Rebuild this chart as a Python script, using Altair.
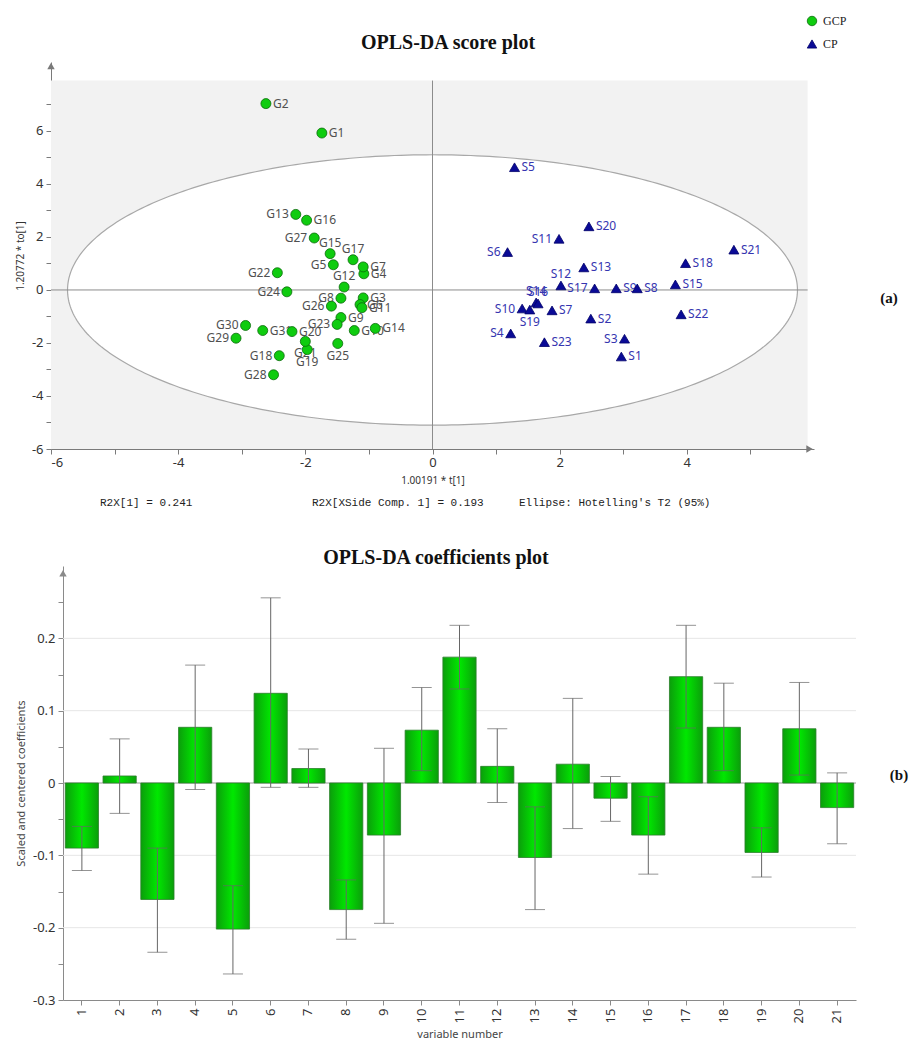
import altair as alt
import pandas as pd

# ---------------- OPLS-DA score plot data ----------------
g_names = ["G1", "G2", "G3", "G4", "G5", "G6", "G7", "G8", "G9", "G10", "G11", "G12",
           "G13", "G14", "G15", "G16", "G17", "G18", "G19", "G20", "G21", "G22", "G23",
           "G24", "G25", "G26", "G27", "G28", "G29", "G30", "G31"]
g_t1 = [-1.74, -2.62, -1.09, -1.08, -1.56, -1.14, -1.09, -1.44, -1.44, -1.23, -1.11, -1.39,
        -2.15, -0.90, -1.61, -1.98, -1.25, -2.41, -1.97, -2.21, -2.00, -2.44, -1.50,
        -2.29, -1.49, -1.59, -1.86, -2.50, -3.09, -2.94, -2.67]
g_to1 = [5.92, 7.03, -0.30, 0.61, 0.95, -0.55, 0.87, -0.31, -1.04, -1.53, -0.67, 0.11,
         2.85, -1.45, 1.37, 2.63, 1.14, -2.48, -2.25, -1.57, -1.94, 0.65, -1.30,
         -0.07, -2.02, -0.61, 1.96, -3.20, -1.82, -1.34, -1.53]
g_side = ["R", "R", "R", "R", "L", "R", "R", "L", "R", "R", "R", "A",
          "L", "R", "A", "R", "A", "L", "B", "R", "B", "L", "L",
          "L", "B", "L", "L", "L", "L", "L", "R"]

s_names = ["S1", "S2", "S3", "S4", "S5", "S6", "S7", "S8", "S9", "S10", "S11", "S12",
           "S13", "S14", "S15", "S16", "S17", "S18", "S19", "S20", "S21", "S22", "S23"]
s_t1 = [2.97, 2.49, 3.02, 1.23, 1.29, 1.18, 1.88, 3.22, 2.89, 1.41, 1.99, 2.02,
        2.38, 1.63, 3.82, 1.66, 2.55, 3.98, 1.53, 2.46, 4.74, 3.91, 1.76]
s_to1 = [-2.51, -1.08, -1.84, -1.64, 4.63, 1.43, -0.77, 0.06, 0.06, -0.70, 1.93, 0.17,
         0.85, -0.47, 0.21, -0.51, 0.06, 1.01, -0.74, 2.40, 1.52, -0.92, -1.97]
s_side = ["R", "R", "L", "L", "R", "L", "R", "R", "R", "L", "L", "A",
          "R", "A", "R", "A", "L", "R", "B", "R", "R", "R", "R"]

groups = ["GCP", "CP"]
r2x_texts = ["R2X[1] = 0.241", "R2X[XSide Comp. 1] = 0.193", "Ellipse: Hotelling's T2 (95%)"]
ellipse_axes = [5.74, 5.1]   # Hotelling's T2 ellipse semi-axes (t[1], to[1])

# ---------------- OPLS-DA coefficients data ----------------
var_num = list(range(1, 22))
coef = [-0.090, 0.0097, -0.161, 0.077, -0.202, 0.124, 0.020, -0.175, -0.072, 0.073, 0.174,
        0.023, -0.103, 0.026, -0.021, -0.072, 0.147, 0.077, -0.096, 0.075, -0.034]
err_hi = [-0.060, 0.061, -0.090, 0.163, -0.142, 0.256, 0.047, -0.134, 0.048, 0.132, 0.218,
          0.075, -0.033, 0.117, 0.009, -0.019, 0.218, 0.138, -0.062, 0.139, 0.014]
err_lo = [-0.121, -0.042, -0.234, -0.009, -0.264, -0.006, -0.006, -0.216, -0.194, 0.017, 0.130,
          -0.027, -0.175, -0.063, -0.053, -0.126, 0.076, 0.017, -0.130, 0.011, -0.084]
grid_vals = [-0.2, -0.1, 0.1, 0.2]

SANS = "Noto Sans"
SERIF = "Liberation Serif"
AXC = "#7a7a7a"

# =============== top chart ===============
pts = pd.DataFrame({
    "name": g_names + s_names,
    "t1": g_t1 + s_t1,
    "to1": g_to1 + s_to1,
    "group": ["GCP"] * len(g_names) + ["CP"] * len(s_names),
    "side": g_side + s_side,
})

W1, H1 = 751, 387
xsc = alt.Scale(domain=[-6, 6], range=[-12, W1], nice=False, zero=False)
ysc = alt.Scale(domain=[-6, 8.6], nice=False, zero=False)

x_axis = alt.Axis(values=list(range(-6, 6)),
                  labelExpr="datum.value % 2 == 0 ? toString(datum.value) : ''",
                  title="1.00191 * t[1]", grid=False, domainColor=AXC, tickColor=AXC,
                  tickSize=5, labelFont=SANS, labelFontSize=13, labelColor="#333",
                  labelPadding=2, titleFont=SANS, titleFontSize=10, titleFontWeight="normal",
                  titleColor="#333", titlePadding=6)
y_axis = alt.Axis(values=list(range(-6, 8)),
                  labelExpr="datum.value % 2 == 0 ? toString(datum.value) : ''",
                  title="1.20772 * to[1]", grid=False, domainColor=AXC, tickColor=AXC,
                  tickSize=5, offset=12, labelFont=SANS, labelFontSize=13, labelColor="#333",
                  labelPadding=3, titleFont=SANS, titleFontSize=10, titleFontWeight="normal",
                  titleColor="#333", titlePadding=6)


def X1(f):
    return alt.X(f, type="quantitative", scale=xsc, axis=x_axis)


def Y1(f):
    return alt.Y(f, type="quantitative", scale=ysc, axis=y_axis)


frame = pd.DataFrame({"x0": [-6], "x1": [5.9], "y0": [-6], "y1": [7.9], "zero": [0],
                      "xa": [5.93], "ya": [8.45]})
bg = alt.Chart(frame).mark_rect(color="#f2f2f2").encode(
    x=X1("x0"), x2="x1:Q", y=Y1("y0"), y2="y1:Q")

a_ax, b_ax = ellipse_axes
ell_fill = alt.Chart(alt.sequence(0, 181, 1, as_="deg")).transform_calculate(
    ex=f"{a_ax} * cos(datum.deg * PI / 180)",
    ey=f"{b_ax} * sin(datum.deg * PI / 180)",
    ey2=f"-{b_ax} * sin(datum.deg * PI / 180)",
).mark_area(color="white").encode(x=X1("ex"), y=Y1("ey"), y2="ey2:Q")

ell_line = alt.Chart(alt.sequence(0, 361, 1, as_="deg")).transform_calculate(
    ex=f"{a_ax} * cos(datum.deg * PI / 180)",
    ey=f"{b_ax} * sin(datum.deg * PI / 180)",
).mark_line(color="#a8a8a8", strokeWidth=1.2).encode(x=X1("ex"), y=Y1("ey"), order="deg:Q")

vline = alt.Chart(frame).mark_rule(color="#8c8c8c", strokeWidth=1).encode(
    x=X1("zero"), y=Y1("y0"), y2="y1:Q")
hline = alt.Chart(frame).mark_rule(color="#8c8c8c", strokeWidth=1).encode(
    y=Y1("zero"), x=X1("x0"), x2="x1:Q")

arrow_y = alt.Chart(frame).mark_point(shape="triangle-up", filled=True, size=55,
                                      color=AXC, opacity=1).encode(x=X1("x0"), y=Y1("ya"))
arrow_x = alt.Chart(frame).mark_point(shape="triangle-right", filled=True, size=55,
                                      color=AXC, opacity=1).encode(x=X1("xa"), y=Y1("y0"))

lab_color = alt.condition(alt.datum.group == "GCP", alt.value("#505050"), alt.value("#3535b0"))
base_pts = alt.Chart(pts).encode(x=X1("t1"), y=Y1("to1"))

side_cfg = {"R": dict(align="left", dx=7), "L": dict(align="right", dx=-7),
            "A": dict(align="center", dy=-11), "B": dict(align="center", dy=12)}
labels = [
    base_pts.transform_filter(alt.datum.side == s).mark_text(
        font=SANS, fontSize=12, baseline="middle", **cfg).encode(text="name:N", color=lab_color)
    for s, cfg in side_cfg.items()
]

leg = alt.Legend(orient="none", legendX=743, legendY=-47, title=None, labelFont=SERIF,
                 labelFontSize=12, labelColor="#222", symbolSize=90, rowPadding=10,
                 labelOffset=5, symbolStrokeWidth=0.8)
points = base_pts.mark_point(filled=True, size=100, opacity=1, strokeWidth=0.8).encode(
    color=alt.Color("group:N", scale=alt.Scale(domain=groups, range=["#0fcc0f", "#0a0a96"]),
                    legend=leg),
    shape=alt.Shape("group:N", scale=alt.Scale(domain=groups, range=["circle", "triangle-up"]),
                    legend=leg),
    stroke=alt.Stroke("group:N", scale=alt.Scale(domain=groups, range=["#0b6b0b", "#00006a"]),
                      legend=None),
)


def txt(s, x, y, **kw):
    return alt.Chart(pd.DataFrame({"t": [s]})).mark_text(**kw).encode(
        x=alt.value(x), y=alt.value(y), text="t:N")


title1 = txt("OPLS-DA score plot", 385, -19, font=SERIF, fontSize=20, fontWeight="bold",
             color="#111", baseline="middle")
r2x = [txt(s, x, 441, font="Liberation Mono", fontSize=11, color="#222", align="left",
           baseline="middle") for s, x in zip(r2x_texts, [37, 249, 456])]
tag_a = txt("(a)", 826, 236, font=SERIF, fontSize=15, fontWeight="bold", color="#111",
            baseline="middle")

top = alt.layer(bg, ell_fill, ell_line, vline, hline, arrow_y, arrow_x, *labels, points,
                title1, *r2x, tag_a).properties(width=W1, height=H1)

# =============== bottom chart ===============
cdf = pd.DataFrame({"var": var_num, "coef": coef, "lo": err_lo, "hi": err_hi,
                    "zero": [0] * len(var_num), "ya": [0.29] * len(var_num)})
W2, H2 = 793, 434
ysc_b = alt.Scale(domain=[-0.3, 0.3], nice=False, zero=False)
xsc_b = alt.Scale(paddingInner=0.12, paddingOuter=0.06)
ytick_vals = [round(i * 0.05, 2) for i in range(-6, 6)]

xb_axis = alt.Axis(title="variable number", labelAngle=270, domainColor="#8a8a8a",
                   tickColor="#8a8a8a", tickSize=5, labelFont=SANS, labelFontSize=13,
                   labelColor="#333", labelPadding=3, titleFont=SANS, titleFontSize=11,
                   titleFontWeight="normal", titleColor="#444", titlePadding=6)
yb_axis = alt.Axis(values=ytick_vals,
                   labelExpr="round(datum.value * 20) % 2 != 0 ? '' : (abs(datum.value) < 1e-9 ? '0' : (datum.value < 0 ? '-' : '') + format(abs(datum.value), '.1f'))",
                   title="Scaled and centered coefficients", grid=False, domainColor="#8a8a8a",
                   tickColor="#8a8a8a", tickSize=5, labelFont=SANS, labelFontSize=13,
                   labelColor="#333", labelPadding=3, titleFont=SANS, titleFontSize=11,
                   titleFontWeight="normal", titleColor="#444", titlePadding=6)


def X2():
    return alt.X("var:O", scale=xsc_b, axis=xb_axis)


def Y2(f):
    return alt.Y(f, type="quantitative", scale=ysc_b, axis=yb_axis)


grid = alt.Chart(pd.DataFrame({"g": grid_vals})).mark_rule(color="#e6e6e6", strokeWidth=1).encode(
    y=Y2("g"))

grad = alt.Gradient(gradient="linear", x1=0, x2=1, y1=0, y2=0, stops=[
    alt.GradientStop(color="#0b9e0b", offset=0),
    alt.GradientStop(color="#00e800", offset=0.5),
    alt.GradientStop(color="#0b9e0b", offset=1)])

bars = alt.Chart(cdf).mark_bar(color=grad, stroke="#2b7f2b", strokeWidth=0.8).encode(
    x=X2(), y=Y2("coef"), y2="zero:Q")

zero_b = alt.Chart(cdf.head(1)).mark_rule(color="#9a9a9a", strokeWidth=1).encode(y=Y2("zero"))

err = alt.Chart(cdf).mark_rule(color="#666", strokeWidth=1).encode(
    x=X2(), y=Y2("lo"), y2="hi:Q")
cap_lo = alt.Chart(cdf).mark_tick(color="#666", size=20, thickness=1).encode(
    x=X2(), y=Y2("lo"))
cap_hi = alt.Chart(cdf).mark_tick(color="#666", size=20, thickness=1).encode(
    x=X2(), y=Y2("hi"))

arrow_b = alt.Chart(cdf.head(1)).mark_point(shape="triangle-up", filled=True, size=55,
                                            color="#8a8a8a", opacity=1).encode(
    x=alt.value(0), y=Y2("ya"))

title2 = txt("OPLS-DA coefficients plot", 373, -8, font=SERIF, fontSize=20, fontWeight="bold",
             color="#111", baseline="middle")
tag_b = txt("(b)", 836, 209, font=SERIF, fontSize=15, fontWeight="bold", color="#111",
            baseline="middle")

bottom = alt.layer(grid, zero_b, bars, err, cap_lo, cap_hi, arrow_b, title2, tag_b).properties(
    width=W2, height=H2)

chart = alt.vconcat(top, bottom, spacing=40).properties(
    padding={"left": 7, "top": 7, "right": 0, "bottom": 0}
).configure_view(stroke=None)

chart.save("out.html", embed_options={"renderer": "svg", "actions": False})
